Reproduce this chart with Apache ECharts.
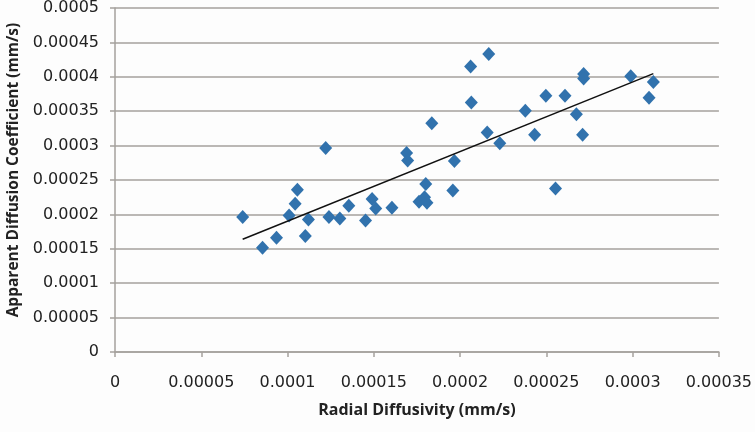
<!DOCTYPE html>
<html>
<head>
<meta charset="utf-8">
<script src="https://cdn.jsdelivr.net/npm/echarts@6/dist/echarts.min.js"></script>
<style>
html,body{margin:0;padding:0;background:#fdfdfd;}
#chart{width:755px;height:432px;}
</style>
</head>
<body>
<div id="chart"></div>
<script>
// Radial Diffusivity (x) values
const radialDiffusivity = [
  7.40e-5, 8.55e-5, 9.36e-5, 1.009e-4, 1.044e-4, 1.057e-4, 1.103e-4, 1.121e-4,
  1.221e-4, 1.240e-4, 1.303e-4, 1.355e-4, 1.452e-4, 1.490e-4, 1.511e-4, 1.605e-4,
  1.690e-4, 1.696e-4, 1.762e-4, 1.794e-4, 1.808e-4, 1.801e-4, 1.836e-4, 1.958e-4,
  1.967e-4, 2.061e-4, 2.065e-4, 2.166e-4, 2.157e-4, 2.230e-4, 2.378e-4, 2.432e-4,
  2.497e-4, 2.553e-4, 2.608e-4, 2.674e-4, 2.710e-4, 2.716e-4, 2.716e-4, 2.989e-4,
  3.095e-4, 3.120e-4
];
// Apparent Diffusion Coefficient (y) values
const apparentDiffusion = [
  1.961e-4, 1.517e-4, 1.662e-4, 1.983e-4, 2.153e-4, 2.358e-4, 1.686e-4, 1.925e-4,
  2.965e-4, 1.961e-4, 1.942e-4, 2.127e-4, 1.913e-4, 2.225e-4, 2.087e-4, 2.095e-4,
  2.893e-4, 2.785e-4, 2.185e-4, 2.250e-4, 2.170e-4, 2.441e-4, 3.326e-4, 2.347e-4,
  2.777e-4, 4.150e-4, 3.627e-4, 4.331e-4, 3.189e-4, 3.035e-4, 3.507e-4, 3.156e-4,
  3.724e-4, 2.376e-4, 3.724e-4, 3.454e-4, 3.156e-4, 4.042e-4, 3.977e-4, 4.008e-4,
  3.695e-4, 3.926e-4
];
// Trend line end points
const trendX = [7.40e-5, 3.12e-4];
const trendY = [1.639e-4, 4.046e-4];

const xTitle = 'Radial Diffusivity (mm/s)';
const yTitle = 'Apparent Diffusion Coefficient (mm/s)';

const fmt = v => (v === 0 ? '0' : String(Number(v.toFixed(6))));

const points = radialDiffusivity.map((x, i) => [x, apparentDiffusion[i]]);
const trend = trendX.map((x, i) => [x, trendY[i]]);

const chart = echarts.init(document.getElementById('chart'), null, {renderer: 'canvas'});
chart.setOption({
  backgroundColor: '#fdfdfd',
  animation: false,
  grid: {left: 115, right: 33, top: 6, bottom: 80, containLabel: false},
  graphic: [
    {
      type: 'text', z: 10, x: 14, y: 170, rotation: Math.PI / 2,
      style: {
        text: yTitle, fontFamily: 'Open Sans', fontWeight: 'bold', fontSize: 15.5, fill: '#222',
        align: 'center', verticalAlign: 'middle'
      }
    }
  ],
  xAxis: {
    type: 'value', min: 0, max: 0.00035, interval: 0.00005,
    name: xTitle, nameLocation: 'middle', nameGap: 50,
    nameTextStyle: {fontFamily: 'Open Sans', fontWeight: 'bold', fontSize: 16, color: '#222'},
    axisLine: {show: true, lineStyle: {color: '#a5a19d', width: 1.5}},
    axisTick: {show: true, length: 5, inside: false, lineStyle: {color: '#a5a19d', width: 1.5}},
    axisLabel: {formatter: fmt, margin: 23, fontFamily: 'DejaVu Sans', fontSize: 16, color: '#222'},
    splitLine: {show: false}
  },
  yAxis: {
    type: 'value', min: 0, max: 0.0005, interval: 0.00005,
    axisLine: {show: true, lineStyle: {color: '#a5a19d', width: 1.5}},
    axisTick: {show: true, length: 5, inside: false, lineStyle: {color: '#a5a19d', width: 1.5}},
    axisLabel: {formatter: fmt, margin: 16, fontFamily: 'DejaVu Sans', fontSize: 16, color: '#222'},
    splitLine: {show: true, lineStyle: {color: '#a5a19d', width: 1.5}}
  },
  series: [
    {
      type: 'scatter', data: points, symbol: 'diamond', symbolSize: [13, 14],
      itemStyle: {color: '#3172ad', opacity: 1}, z: 3
    },
    {
      type: 'line', data: trend, symbol: 'none',
      lineStyle: {color: '#111', width: 1.5}, z: 4
    }
  ]
});
</script>
</body>
</html>
